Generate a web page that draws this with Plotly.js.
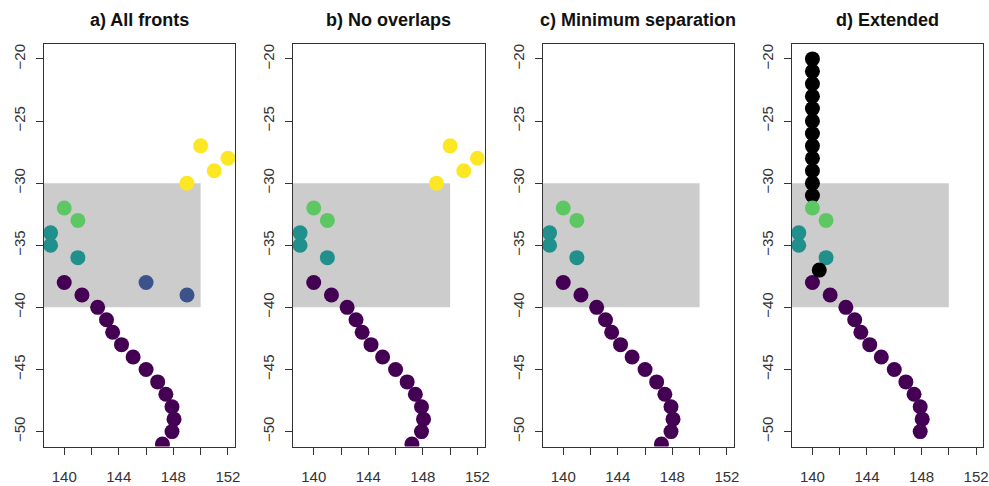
<!DOCTYPE html>
<html>
<head>
<meta charset="utf-8">
<script src="https://cdn.plot.ly/plotly-3.0.1.min.js"></script>
<style>html,body{margin:0;padding:0;background:#fff;}#chart{width:989px;height:486px;}</style>
</head>
<body>
<div id="chart"></div>
<script>
// ---- Data ----
const panelTitles = ["a) All fronts", "b) No overlaps", "c) Minimum separation", "d) Extended"];

const purpleX = [140, 141.3, 142.45, 143.1, 143.55, 144.2, 145.05, 146.0, 146.85, 147.45, 147.9, 148.05, 147.9, 147.2];
const purpleY = [-38, -39, -40, -41, -42, -43, -44, -45, -46, -47, -48, -49, -50, -51];

const greenX = [140, 141];
const greenY = [-32, -33];

const tealX = [139, 139, 141];
const tealY = [-34, -35, -36];

const blueX = [146, 149];
const blueY = [-38, -39];

const yellowX = [150, 152, 151, 149];
const yellowY = [-27, -28, -29, -30];

const extendedX = [140, 140, 140, 140, 140, 140, 140, 140, 140, 140, 140, 140, 140.5];
const extendedY = [-20, -21, -22, -23, -24, -25, -26, -27, -28, -29, -30, -31, -37];

const boxRegion = {x0: 130, x1: 150, y0: -40, y1: -30};

const xTickVals = [140, 142, 144, 146, 148, 150, 152];
const xTickText = ["140", "", "144", "", "148", "", "152"];
const yTickVals = [-20, -25, -30, -35, -40, -45, -50];
const yTickText = ["\u221220", "\u221225", "\u221230", "\u221235", "\u221240", "\u221245", "\u221250"];

const colors = {purple: "#440154", blue: "#3B528B", teal: "#21908C", green: "#5DC863", yellow: "#FDE725", black: "#000000"};

// ---- Build ----
const W = 989, H = 486;
const leftPx = [43.5, 293, 542.5, 791.7];
const plotW = 191.5;
const yDomain = [(H - 446.5) / H, (H - 44) / H];

function sc(x, y, color, i) {
  const s = i === 0 ? "" : String(i + 1);
  return {x: x, y: y, type: "scatter", mode: "markers", xaxis: "x" + s, yaxis: "y" + s,
    marker: {color: color, size: 15, line: {width: 0}}, showlegend: false, hoverinfo: "x+y", cliponaxis: true};
}

const traces = [];
// panel a
traces.push(sc(purpleX, purpleY, colors.purple, 0));
traces.push(sc(blueX, blueY, colors.blue, 0));
traces.push(sc(tealX, tealY, colors.teal, 0));
traces.push(sc(greenX, greenY, colors.green, 0));
traces.push(sc(yellowX, yellowY, colors.yellow, 0));
// panel b
traces.push(sc(purpleX, purpleY, colors.purple, 1));
traces.push(sc(tealX, tealY, colors.teal, 1));
traces.push(sc(greenX, greenY, colors.green, 1));
traces.push(sc(yellowX, yellowY, colors.yellow, 1));
// panel c
traces.push(sc(purpleX, purpleY, colors.purple, 2));
traces.push(sc(tealX, tealY, colors.teal, 2));
traces.push(sc(greenX, greenY, colors.green, 2));
// panel d
traces.push(sc(purpleX.slice(0, 13), purpleY.slice(0, 13), colors.purple, 3));
traces.push(sc(tealX, tealY, colors.teal, 3));
traces.push(sc(extendedX, extendedY, colors.black, 3));
traces.push(sc(greenX, greenY, colors.green, 3));

const layout = {
  width: W, height: H,
  margin: {l: 0, r: 0, t: 0, b: 0},
  paper_bgcolor: "#ffffff", plot_bgcolor: "rgba(0,0,0,0)",
  font: {family: "Liberation Sans, Arial, sans-serif", size: 15, color: "#333"},
  showlegend: false,
  shapes: [], annotations: []
};

for (let i = 0; i < 4; i++) {
  const s = i === 0 ? "" : String(i + 1);
  const d0 = leftPx[i] / W, d1 = (leftPx[i] + plotW) / W;
  layout["xaxis" + s] = {
    domain: [d0, d1], anchor: "y" + s, range: [138.48, 152.52],
    tickmode: "array", tickvals: xTickVals, ticktext: xTickText,
    ticks: "outside", ticklen: 7, tickwidth: 1, tickcolor: "#333",
    showline: true, mirror: true, linecolor: "#333", linewidth: 1,
    showgrid: false, zeroline: false, automargin: false,
    ticklabelstandoff: 9, tickfont: {size: 15, color: "#333"}
  };
  layout["yaxis" + s] = {
    domain: yDomain, anchor: "x" + s, range: [-51.2, -18.8],
    tickmode: "array", tickvals: yTickVals, ticktext: yTickText, tickangle: -90,
    ticks: "outside", ticklen: 7, tickwidth: 1, tickcolor: "#333",
    showline: true, mirror: true, linecolor: "#333", linewidth: 1,
    showgrid: false, zeroline: false, automargin: false,
    ticklabelstandoff: 5, tickfont: {size: 15, color: "#333"}
  };
  layout.shapes.push({type: "rect", xref: "x" + s, yref: "y" + s, x0: boxRegion.x0, x1: boxRegion.x1,
    y0: boxRegion.y0, y1: boxRegion.y1, fillcolor: "#CCCCCC", line: {width: 0}, layer: "below"});
  layout.annotations.push({text: "<b>" + panelTitles[i] + "</b>", xref: "paper", yref: "paper",
    x: (d0 + d1) / 2, y: 1 - 20 / H, xanchor: "center", yanchor: "middle", showarrow: false,
    font: {family: "Liberation Sans, Arial, sans-serif", size: 18, color: "#111"}});
}

Plotly.newPlot("chart", traces, layout, {displayModeBar: false, staticPlot: true});
</script>
</body>
</html>
